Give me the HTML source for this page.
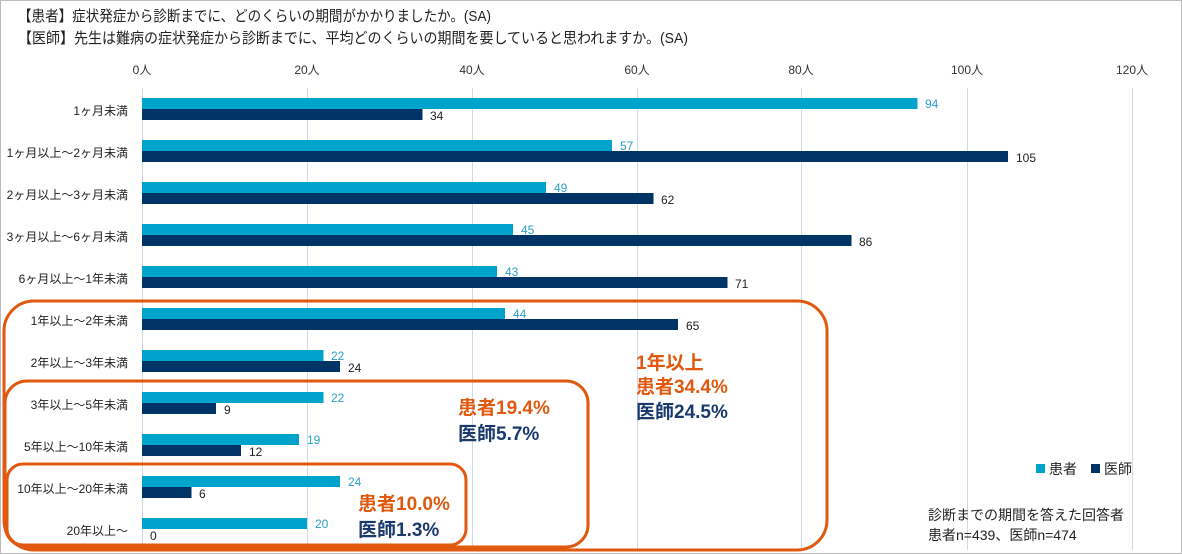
<!DOCTYPE html>
<html><head><meta charset="utf-8"><style>
body{margin:0;background:#fff}
svg{display:block;font-family:"Liberation Sans","Noto Sans CJK JP",sans-serif}
</style></head><body>
<svg width="1182" height="554" viewBox="0 0 1182 554">
<rect x="0.5" y="0.5" width="1181" height="553" fill="#fff" stroke="#bbb"/>
<text x="18" y="21" font-size="15" fill="#222" textLength="473" lengthAdjust="spacingAndGlyphs">【患者】症状発症から診断までに、どのくらいの期間がかかりましたか。(SA)</text>
<text x="18" y="43" font-size="15" fill="#222" textLength="670" lengthAdjust="spacingAndGlyphs">【医師】先生は難病の症状発症から診断までに、平均どのくらいの期間を要していると思われますか。(SA)</text>
<g font-size="12" fill="#333" text-anchor="middle">
<text x="142" y="74">0人</text><text x="307" y="74">20人</text><text x="472" y="74">40人</text><text x="637" y="74">60人</text><text x="801" y="74">80人</text><text x="967" y="74">100人</text><text x="1132" y="74">120人</text>
</g>
<g stroke="#d0d8ec" stroke-width="1">
<line x1="142.5" y1="88" x2="142.5" y2="550"/><line x1="307.5" y1="88" x2="307.5" y2="550"/><line x1="472.5" y1="88" x2="472.5" y2="550"/><line x1="637.5" y1="88" x2="637.5" y2="550"/><line x1="801.5" y1="88" x2="801.5" y2="550"/><line x1="967.5" y1="88" x2="967.5" y2="550"/><line x1="1132.5" y1="88" x2="1132.5" y2="550"/>
</g>
<g font-size="12" text-anchor="end" fill="#222">
<text x="128" y="115">1ヶ月未満</text>
<text x="128" y="157">1ヶ月以上～2ヶ月未満</text>
<text x="128" y="199">2ヶ月以上～3ヶ月未満</text>
<text x="128" y="241">3ヶ月以上～6ヶ月未満</text>
<text x="128" y="283">6ヶ月以上～1年未満</text>
<text x="128" y="325">1年以上～2年未満</text>
<text x="128" y="367">2年以上～3年未満</text>
<text x="128" y="409">3年以上～5年未満</text>
<text x="128" y="451">5年以上～10年未満</text>
<text x="128" y="493">10年以上～20年未満</text>
<text x="128" y="535">20年以上～</text>
</g>
<g fill="#00a3cc">
<rect x="142" y="98" width="775.5" height="11"/><rect x="142" y="140" width="470" height="11"/><rect x="142" y="182" width="404" height="11"/><rect x="142" y="224" width="371" height="11"/><rect x="142" y="266" width="355" height="11"/><rect x="142" y="308" width="363" height="11"/><rect x="142" y="350" width="181.5" height="11"/><rect x="142" y="392" width="181.5" height="11"/><rect x="142" y="434" width="157" height="11"/><rect x="142" y="476" width="198" height="11"/><rect x="142" y="518" width="165" height="11"/>
</g>
<g fill="#003366">
<rect x="142" y="109" width="280.5" height="11"/><rect x="142" y="151" width="866" height="11"/><rect x="142" y="193" width="511.5" height="11"/><rect x="142" y="235" width="709.5" height="11"/><rect x="142" y="277" width="585.5" height="11"/><rect x="142" y="319" width="536" height="11"/><rect x="142" y="361" width="198" height="11"/><rect x="142" y="403" width="74" height="11"/><rect x="142" y="445" width="99" height="11"/><rect x="142" y="487" width="49.5" height="11"/>
</g>
<g font-size="12" fill="#2aa0c8">
<text x="925" y="108">94</text><text x="620" y="150">57</text><text x="554" y="192">49</text><text x="521" y="234">45</text><text x="505" y="276">43</text><text x="513" y="318">44</text><text x="331" y="360">22</text><text x="331" y="402">22</text><text x="307" y="444">19</text><text x="348" y="486">24</text><text x="315" y="528">20</text>
</g>
<g font-size="12" fill="#222">
<text x="430" y="120">34</text><text x="1016" y="162">105</text><text x="661" y="204">62</text><text x="859" y="246">86</text><text x="735" y="288">71</text><text x="686" y="330">65</text><text x="348" y="372">24</text><text x="224" y="414">9</text><text x="249" y="456">12</text><text x="199" y="498">6</text><text x="150" y="540">0</text>
</g>
<g fill="none" stroke="#e0590f" stroke-width="3">
<rect x="4" y="301" width="823" height="249" rx="30"/>
<rect x="5" y="381" width="583" height="166" rx="22"/>
<rect x="7" y="464" width="459" height="81" rx="16"/>
</g>
<g font-size="19" font-weight="bold">
<text x="636" y="369" fill="#e0590f">1年以上</text>
<text x="636" y="393" fill="#e0590f">患者34.4%</text>
<text x="636" y="418" fill="#1a3a6e">医師24.5%</text>
<text x="458" y="414" fill="#e0590f">患者19.4%</text>
<text x="458" y="440" fill="#1a3a6e">医師5.7%</text>
<text x="358" y="510" fill="#e0590f">患者10.0%</text>
<text x="358" y="536" fill="#1a3a6e">医師1.3%</text>
</g>
<rect x="1036" y="464" width="9" height="9" fill="#00a3cc"/>
<text x="1049" y="474" font-size="14" fill="#222">患者</text>
<rect x="1091" y="464" width="9" height="9" fill="#003366"/>
<text x="1104" y="474" font-size="14" fill="#222">医師</text>
<text x="928" y="520" font-size="14" fill="#222">診断までの期間を答えた回答者</text>
<text x="928" y="540" font-size="14" fill="#222">患者n=439、医師n=474</text>
</svg>
</body></html>
